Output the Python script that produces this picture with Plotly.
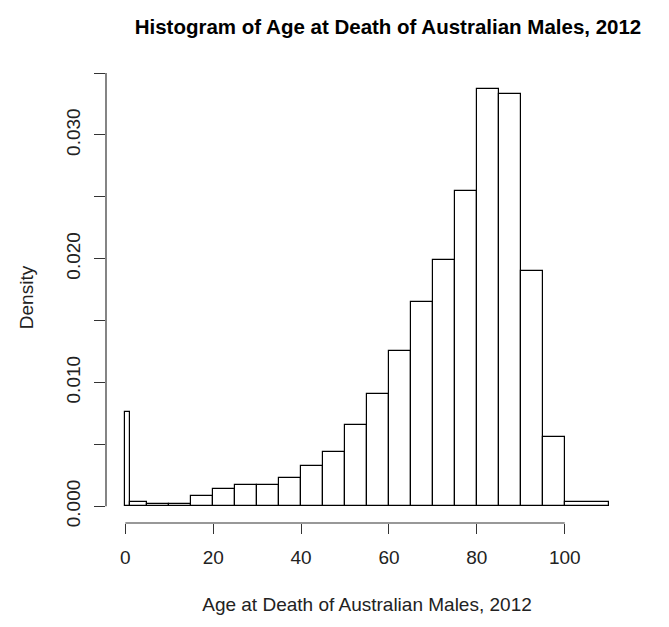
import plotly.graph_objects as go

# Histogram bins (age at death, years) and densities
bin_left = [0, 1, 5, 10, 15, 20, 25, 30, 35, 40, 45, 50, 55, 60, 65, 70, 75, 80, 85, 90, 95, 100]
bin_right = [1, 5, 10, 15, 20, 25, 30, 35, 40, 45, 50, 55, 60, 65, 70, 75, 80, 85, 90, 95, 100, 110]
density = [0.00758, 0.00035, 0.00019, 0.00019, 0.00087, 0.00138, 0.00172, 0.00172,
           0.00232, 0.00329, 0.00436, 0.00658, 0.00904, 0.01251, 0.01648, 0.0199,
           0.02551, 0.03374, 0.03331, 0.01901, 0.00561, 0.00035]

x_ticks = [0, 20, 40, 60, 80, 100]
y_ticks = [0.0, 0.005, 0.010, 0.015, 0.020, 0.025, 0.030, 0.035]
y_labels = ["0.000", "", "0.010", "", "0.020", "", "0.030", ""]

centers = [(a + b) / 2 for a, b in zip(bin_left, bin_right)]
widths = [b - a for a, b in zip(bin_left, bin_right)]

FONT = "Liberation Sans, Arial, sans-serif"

fig = go.Figure()
fig.add_trace(go.Bar(
    x=centers, y=density, width=widths,
    marker=dict(color="white", line=dict(color="black", width=1.2)),
    hoverinfo="skip", showlegend=False,
))

xmin, xmax = min(bin_left), max(bin_right)
ymax = max(density)
xpad = (xmax - xmin) * 0.04
ypad = ymax * 0.04

fig.update_layout(
    width=669, height=627,
    margin=dict(l=106, r=41, t=72, b=104),
    paper_bgcolor="white", plot_bgcolor="white",
    bargap=0,
    font=dict(family=FONT, size=19, color="#222"),
    title=dict(text="<b>Histogram of Age at Death of Australian Males, 2012</b>",
               x=388 / 669, xref="container", xanchor="center", y=0.957, yanchor="middle",
               font=dict(family=FONT, size=20.5, color="black")),
    xaxis=dict(range=[xmin - xpad, xmax + xpad], showgrid=False, zeroline=False,
               showline=False, tickvals=x_ticks, ticks="outside", ticklen=10,
               tickwidth=1.2, tickcolor="#333", ticklabelstandoff=7,
               title=dict(text="Age at Death of Australian Males, 2012", standoff=30,
                          font=dict(size=19))),
    yaxis=dict(range=[-ypad, ymax + ypad], showgrid=False, zeroline=False,
               showline=False, tickvals=y_ticks, ticktext=y_labels, tickangle=-90,
               ticks="outside", ticklen=11, tickwidth=1.2, tickcolor="#333",
               ticklabelstandoff=6,
               title=dict(text="Density", standoff=24, font=dict(size=19))),
)

# R-style axis lines spanning only first to last tick
fig.add_shape(type="line", xref="x", yref="paper", x0=x_ticks[0], x1=x_ticks[-1],
              y0=0, y1=0, line=dict(color="#333", width=1.2))
fig.add_shape(type="line", xref="paper", yref="y", x0=0, x1=0,
              y0=y_ticks[0], y1=y_ticks[-1], line=dict(color="#333", width=1.2))

fig.write_html("out.html")
